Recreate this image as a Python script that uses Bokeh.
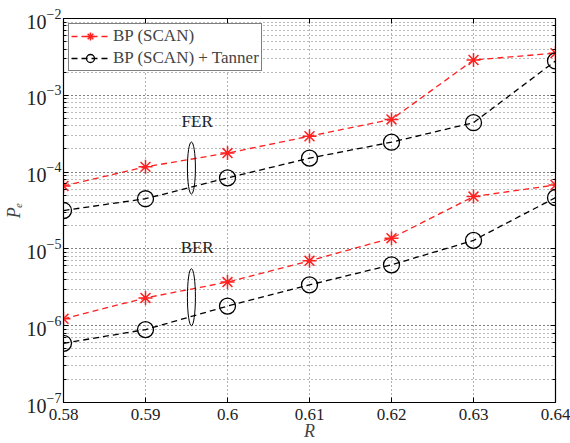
from bokeh.plotting import figure
from bokeh.models import LogAxis, LinearAxis, Legend, LegendItem, Label, FixedTicker
from bokeh.embed import file_html
from bokeh.resources import INLINE

R = [0.58, 0.59, 0.60, 0.61, 0.62, 0.63, 0.64]
fer_bp = [6.6e-5, 1.17e-4, 1.77e-4, 2.93e-4, 4.85e-4, 2.88e-3, 3.54e-3]
fer_tan = [3.16e-5, 4.5e-5, 8.4e-5, 1.52e-4, 2.45e-4, 4.4e-4, 2.8e-3]
ber_bp = [1.23e-6, 2.3e-6, 3.7e-6, 7.0e-6, 1.38e-5, 4.8e-5, 6.8e-5]
ber_tan = [5.9e-7, 8.9e-7, 1.8e-6, 3.4e-6, 6.2e-6, 1.29e-5, 4.65e-5]
x_ticks = [0.58, 0.59, 0.60, 0.61, 0.62, 0.63, 0.64]
x_tick_labels = {0.58: "0.58", 0.59: "0.59", 0.60: "0.6", 0.61: "0.61",
                 0.62: "0.62", 0.63: "0.63", 0.64: "0.64"}
legend_labels = ["BP (SCAN)", "BP (SCAN) + Tanner"]
annot = [("FER", 0.5963, 4.6e-4), ("BER", 0.5963, 1.05e-5)]
ellipses = [(0.5956, 1.13e-4), (0.5956, 2.35e-6)]

FONT = "Liberation Serif"
RED = "#ff2020"

p = figure(width=570, height=443, y_axis_type="log", x_range=(0.58, 0.64),
           y_range=(1e-7, 1e-2), output_backend="svg", toolbar_location=None,
           min_border_left=62, min_border_right=15, min_border_top=18,
           min_border_bottom=37)
p.background_fill_color = "white"
p.border_fill_color = "white"
p.outline_line_color = "black"
p.outline_line_width = 1.2

# axes styling
for ax in [p.xaxis[0], p.yaxis[0]]:
    ax.major_label_text_font = FONT
    ax.major_label_text_font_size = "17px"
    ax.major_label_text_color = "#222"
    ax.axis_label_text_font = FONT
    ax.axis_label_text_font_style = "italic"
    ax.axis_label_text_font_size = "18px"
    ax.major_tick_in = 5
    ax.major_tick_out = 0
    ax.minor_tick_in = 3
    ax.minor_tick_out = 0
    ax.axis_line_color = "black"
    ax.major_tick_line_color = "black"
    ax.minor_tick_line_color = "black"
p.xaxis[0].ticker = FixedTicker(ticks=x_ticks)
p.xaxis[0].major_label_overrides = x_tick_labels
p.xaxis[0].major_label_standoff = 6
p.xaxis[0].axis_label = "R"
p.xaxis[0].axis_label_standoff = -2
p.yaxis[0].axis_label = "Pₑ"
p.yaxis[0].axis_label_standoff = 0
p.yaxis[0].major_label_standoff = 2
p.yaxis[0].major_label_text_font_size = "20px"

# mirror axes (ticks only)
top = LinearAxis(ticker=FixedTicker(ticks=x_ticks), major_label_text_font_size="1px",
                 major_label_text_alpha=0, major_label_standoff=0,
                 major_tick_in=5, major_tick_out=0, axis_line_color="black")
right = LogAxis(major_label_text_font_size="1px", major_label_text_alpha=0,
                major_label_standoff=0, major_tick_in=5, major_tick_out=0,
                minor_tick_in=3, minor_tick_out=0, axis_line_color="black")
p.add_layout(top, "above")
p.add_layout(right, "right")

# grids
p.xgrid.ticker = FixedTicker(ticks=x_ticks)
for g in [p.xgrid[0], p.ygrid[0]]:
    g.grid_line_color = "#666"
    g.grid_line_dash = "1 3"
    g.grid_line_width = 1
p.ygrid[0].minor_grid_line_color = "#777"
p.ygrid[0].minor_grid_line_dash = "1 3"

# series
l1 = p.line(R, fer_bp, line_color=RED, line_dash="6 4", line_width=1.3)
l2 = p.line(R, ber_bp, line_color=RED, line_dash="6 4", line_width=1.3)
m1 = p.scatter(R, fer_bp, marker="asterisk", size=14, line_color=RED, line_width=1.5)
m2 = p.scatter(R, ber_bp, marker="asterisk", size=14, line_color=RED, line_width=1.5)
l3 = p.line(R, fer_tan, line_color="black", line_dash="6 4", line_width=1.3)
l4 = p.line(R, ber_tan, line_color="black", line_dash="6 4", line_width=1.3)
m3 = p.scatter(R, fer_tan, marker="circle", size=16, fill_color=None,
               line_color="black", line_width=1.3)
m4 = p.scatter(R, ber_tan, marker="circle", size=16, fill_color=None,
               line_color="black", line_width=1.3)

# ellipses
ex = [e[0] for e in ellipses]
ey = [e[1] for e in ellipses]
p.ellipse(x=ex, y=ey, width=[8, 8], height=[52, 57], width_units="screen",
          height_units="screen", fill_color=None, line_color="black", line_width=1)

for txt, x, y in annot:
    p.add_layout(Label(x=x, y=y, text=txt, text_font=FONT, text_font_size="17px",
                       text_align="center", text_baseline="middle", text_color="#222"))

legend = Legend(items=[LegendItem(label=legend_labels[0], renderers=[l1, m1]),
                       LegendItem(label=legend_labels[1], renderers=[l3, m3])],
                location="top_left")
legend.label_text_font = FONT
legend.label_text_font_size = "17px"
legend.border_line_color = "black"
legend.border_line_width = 1
legend.glyph_width = 38
legend.label_height = 20
legend.glyph_height = 20
legend.spacing = 2
legend.padding = 2
legend.margin = 5
legend.label_standoff = 4
legend.background_fill_alpha = 1
p.add_layout(legend)

open("out.html", "w").write(file_html(p, INLINE))
